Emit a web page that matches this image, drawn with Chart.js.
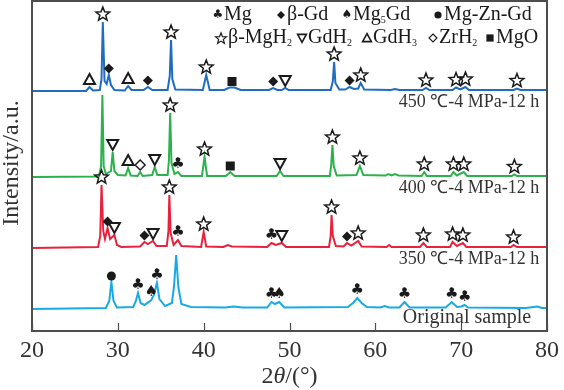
<!DOCTYPE html>
<html>
<head>
<meta charset="utf-8">
<script src="https://cdn.jsdelivr.net/npm/chart.js@4/dist/chart.umd.min.js"></script>
<style>
html, body { margin: 0; padding: 0; background: #fff; }
</style>
</head>
<body>
<canvas id="xrd" width="564" height="390"></canvas>
<script>
// x tick values (2theta) and series names
const xTicks = [20, 30, 40, 50, 60, 70, 80];
const seriesNames = ['450 \u2103-4 MPa-12 h', '400 \u2103-4 MPa-12 h', '350 \u2103-4 MPa-12 h', 'Original sample'];

// [2theta, intensity] (offset stacked, arbitrary units)
const pattern450 = [
  [20,240],[26.3,240],[26.7,244],[27.1,240.5],[27.9,241],[28.1,252],[28.25,309],[28.45,250],[28.7,247],[28.95,256],[29.2,246],[29.6,241],
  [30.8,240.5],[31.2,245],[31.6,241],[33.0,241],[33.5,244],[34.0,241],[35.8,241],[36.05,255],[36.2,291],[36.35,252],[36.7,241.5],
  [39.9,241],[40.3,256],[40.7,241],[42.4,241],[43.0,243.5],[43.6,243.5],[44.3,241],[47.6,241],[48.1,243],[48.6,241],[49.1,241],[49.5,243],[49.9,241],
  [54.8,241],[55.05,250],[55.2,269],[55.35,248],[55.8,241.5],[56.5,241.5],[57.0,244],[57.5,242],[58.0,242.5],[58.3,248],[58.7,241.5],
  [61.8,241],[62.3,242],[62.8,241],[65.5,241],[65.9,243],[66.3,241],[69.0,241],[69.4,243.5],[69.9,241.5],[70.5,244],[70.9,241],
  [76.1,241],[76.5,242.5],[76.9,241],[80,241]
];
const pattern400 = [
  [20,154],[27.8,154.5],[28.05,165],[28.2,236],[28.35,165],[28.6,157],[29.2,160],[29.4,179],[29.6,160],[30.0,156],[30.9,155.5],[31.2,163],[31.5,155.5],
  [32.3,155],[32.6,159],[32.9,155],[34.0,156],[34.3,164],[34.6,156],[35.8,156],[35.95,170],[36.1,218],[36.25,168],[36.6,157],[37.0,159],[37.4,155],
  [39.8,155],[40.1,174],[40.4,155],[42.6,155],[43.1,159],[43.6,155],[48.5,155],[48.9,160],[49.3,155],
  [54.7,155],[54.85,165],[55.0,186],[55.15,165],[55.5,155.5],[57.8,156],[58.2,165],[58.6,156],[61.2,155.5],[61.5,157],[61.9,155.5],[62.3,157],[62.7,155.5],
  [65.4,155],[65.7,159],[66.0,155],[68.8,155],[69.1,159],[69.5,155.5],[70.3,159],[70.7,155],[75.9,155],[76.2,156.5],[76.5,155],[80,155]
];
const pattern350 = [
  [20,83],[27.7,84],[27.95,95],[28.1,146],[28.3,100],[28.5,92],[28.8,103],[29.1,92],[29.6,96],[29.9,86],[30.4,84],[32.6,84.5],[33.1,89],[33.5,87],[34.1,90],[34.5,85],
  [35.7,85],[35.9,100],[36.0,136],[36.15,98],[36.5,86],[37.0,91],[37.4,85],[39.7,84],[40.0,99],[40.3,84.5],[42.3,84],[42.8,86],[43.3,84.5],
  [47.4,84],[47.9,88],[48.4,86],[49.1,88],[49.6,84],[54.6,84],[54.8,95],[54.9,116],[55.05,95],[55.4,85],[56.3,84.5],[56.7,88],[57.2,85.5],[58.0,90],[58.4,84.5],
  [61.3,84],[61.6,86],[61.9,84],[65.2,84],[65.6,88],[66.0,84],[68.7,84],[69.0,89],[69.5,85],[70.2,88],[70.6,84],[75.8,84],[76.1,86],[76.5,84],[80,84]
];
const patternOrig = [
  [20,22],[28.6,23],[29.0,30],[29.25,49],[29.5,30],[29.9,23.5],[31.8,24],[32.1,30],[32.35,38],[32.65,28],[33.1,26],[33.9,31],[34.2,36],[34.55,48],[34.85,32],[35.5,25],
  [36.3,28],[36.55,45],[36.8,76],[37.05,44],[37.4,27],[38.5,24],[42.5,23.5],[43.5,24.5],[44.5,23.5],[47.4,23.5],[47.9,29],[48.3,27],[48.8,29],[49.4,23.5],
  [56.8,24],[57.4,28],[57.9,33],[58.4,28],[59.0,24],[60.6,23.5],[61.1,25],[61.6,23.5],[62.8,23.5],[63.4,29],[64.0,23.5],
  [68.2,23.5],[68.9,29],[69.5,24],[70.0,24.5],[70.4,26],[70.8,23.5],[77.5,23],[78.9,24.5],[79.4,23],[80,23]
];

// phase marks: [2theta, phase key]
const marks450 = [[26.7,'GdH3'],[28.25,'MgH2'],[28.95,'bGd'],[31.2,'GdH3'],[33.5,'bGd'],[36.2,'MgH2'],[40.3,'MgH2'],[43.3,'MgO'],[48.1,'bGd'],[49.5,'GdH2'],[55.2,'MgH2'],[57.0,'bGd'],[58.3,'MgH2'],[65.9,'MgH2'],[69.4,'MgH2'],[70.5,'MgH2'],[76.5,'MgH2']];
const marks400 = [[29.4,'GdH2'],[31.2,'GdH3'],[32.6,'ZrH2'],[34.3,'GdH2'],[36.1,'MgH2'],[37.0,'Mg'],[40.1,'MgH2'],[43.1,'MgO'],[48.9,'GdH2'],[55.0,'MgH2'],[58.2,'MgH2'],[65.7,'MgH2'],[69.1,'MgH2'],[70.3,'MgH2'],[76.2,'MgH2']];
const marks350 = [[28.1,'MgH2'],[28.8,'bGd'],[29.6,'GdH2'],[33.1,'bGd'],[34.1,'GdH2'],[36.0,'MgH2'],[37.0,'Mg'],[40.0,'MgH2'],[47.9,'Mg'],[49.1,'GdH2'],[54.9,'MgH2'],[56.7,'bGd'],[58.0,'MgH2'],[65.6,'MgH2'],[69.0,'MgH2'],[70.2,'MgH2'],[76.1,'MgH2']];
const marksOrig = [[29.25,'MgZnGd'],[32.35,'Mg'],[33.9,'Mg5Gd'],[34.55,'Mg'],[47.9,'Mg'],[48.8,'Mg5Gd'],[57.9,'Mg'],[63.4,'Mg'],[68.9,'Mg'],[70.4,'Mg']];

// legend entries: phase key, label (underscore = subscript)
const legendRow1 = [['Mg','Mg'],['bGd','\u03B2-Gd'],['Mg5Gd','Mg_5Gd'],['MgZnGd','Mg-Zn-Gd']];
const legendRow2 = [['MgH2','\u03B2-MgH_2'],['GdH2','GdH_2'],['GdH3','GdH_3'],['ZrH2','ZrH_2'],['MgO','MgO']];

const serif = '"Liberation Serif", "Times New Roman", serif';
const symFont = '"DejaVu Sans", sans-serif';
const ink = '#1a1a1a';

// half height of each symbol, used to sit it just above its peak
const symHalf = { MgH2: 7, bGd: 5, GdH2: 6, GdH3: 6, ZrH2: 5.5, MgO: 4.5, MgZnGd: 4.5, Mg: 6.5, Mg5Gd: 6.5 };

function drawSymbol(ctx, key, cx, cy, k) {
  k = k || 1;
  ctx.save();
  ctx.translate(cx, cy);
  ctx.scale(k, k);
  ctx.fillStyle = ink;
  ctx.strokeStyle = ink;
  ctx.lineJoin = 'miter';
  ctx.beginPath();
  if (key === 'MgH2') {
    for (let i = 0; i < 10; i++) {
      const r = i % 2 === 0 ? 7.2 : 3.1;
      const ang = -Math.PI / 2 + i * Math.PI / 5;
      const px = r * Math.cos(ang), py = r * Math.sin(ang) + 0.8;
      i === 0 ? ctx.moveTo(px, py) : ctx.lineTo(px, py);
    }
    ctx.closePath();
    ctx.lineWidth = 1.5;
    ctx.stroke();
  } else if (key === 'bGd') {
    ctx.moveTo(0, -5); ctx.lineTo(5, 0); ctx.lineTo(0, 5); ctx.lineTo(-5, 0); ctx.closePath();
    ctx.fill();
  } else if (key === 'ZrH2') {
    ctx.moveTo(0, -5); ctx.lineTo(5, 0); ctx.lineTo(0, 5); ctx.lineTo(-5, 0); ctx.closePath();
    ctx.lineWidth = 1.4;
    ctx.stroke();
  } else if (key === 'GdH3') {
    ctx.moveTo(0, -5.5); ctx.lineTo(5.5, 4.5); ctx.lineTo(-5.5, 4.5); ctx.closePath();
    ctx.lineWidth = 2;
    ctx.stroke();
  } else if (key === 'GdH2') {
    ctx.moveTo(-5.5, -4.5); ctx.lineTo(5.5, -4.5); ctx.lineTo(0, 5.5); ctx.closePath();
    ctx.lineWidth = 2;
    ctx.stroke();
  } else if (key === 'MgO') {
    ctx.fillRect(-4.5, -4.5, 9, 9);
  } else if (key === 'MgZnGd') {
    ctx.arc(0, 0, 4.5, 0, Math.PI * 2);
    ctx.fill();
  } else {
    ctx.font = '15px ' + symFont;
    ctx.textAlign = 'center';
    ctx.textBaseline = 'middle';
    ctx.fillText(key === 'Mg' ? '\u2663' : '\u2660', 0, 0);
  }
  ctx.restore();
}

function peakTop(data, t) {
  let best = -Infinity;
  data.forEach(p => { if (Math.abs(p.x - t) <= 0.16 && p.y > best) best = p.y; });
  if (best === -Infinity) {
    let d = 1e9;
    data.forEach(p => { if (Math.abs(p.x - t) < d) { d = Math.abs(p.x - t); best = p.y; } });
  }
  return best;
}

function drawRich(ctx, str, x, y, size) {
  // text with "_d" subscripts, left aligned
  let cx = x;
  for (let i = 0; i < str.length; i++) {
    const ch = str[i];
    if (ch === '_' && i + 1 < str.length) {
      ctx.font = Math.round(size * 0.5) + 'px ' + serif;
      ctx.fillText(str[i + 1], cx, y + size * 0.25);
      cx += ctx.measureText(str[i + 1]).width;
      i++;
    } else {
      ctx.font = size + 'px ' + serif;
      ctx.fillText(ch, cx, y);
      cx += ctx.measureText(ch).width;
    }
  }
  return cx;
}

const overlay = {
  id: 'overlay',
  afterDatasetsDraw(chart) {
    const { ctx, chartArea: a, scales: { x, y } } = chart;
    ctx.save();

    // frame
    ctx.strokeStyle = '#4d4d4d';
    ctx.lineWidth = 2;
    ctx.strokeRect(a.left, a.top, a.right - a.left, a.bottom - a.top);

    // inward ticks on the bottom axis
    ctx.lineWidth = 1.2;
    xTicks.forEach(v => {
      const px = Math.round(x.getPixelForValue(v)) + 0.5;
      ctx.beginPath();
      ctx.moveTo(px, a.bottom);
      ctx.lineTo(px, a.bottom - 8);
      ctx.stroke();
    });

    // phase marks above peaks
    chart.data.datasets.forEach(ds => {
      ds.marks.forEach(([t, key]) => {
        const top = y.getPixelForValue(peakTop(ds.data, t));
        drawSymbol(ctx, key, x.getPixelForValue(t), top - symHalf[key] - 1.5);
      });
    });

    // series captions
    ctx.fillStyle = '#333';
    ctx.textAlign = 'center';
    ctx.textBaseline = 'middle';
    chart.data.datasets.forEach((ds, i) => {
      const py = y.getPixelForValue(ds.data[0].y) + (i === 3 ? 9 : 11);
      ctx.font = (i === 3 ? 20 : 18) + 'px ' + serif;
      ctx.fillText(ds.label, i === 3 ? 467 : 469, py);
    });

    // legend
    const row1X = [218, 281, 347, 438];
    const row2X = [221, 302, 367, 433, 490];
    [[legendRow1, row1X, 15], [legendRow2, row2X, 38]].forEach(([row, xs, ry]) => {
      row.forEach(([key, name], k) => {
        drawSymbol(ctx, key, xs[k], ry, 0.8);
        ctx.fillStyle = ink;
        ctx.textAlign = 'left';
        ctx.textBaseline = 'middle';
        drawRich(ctx, name, xs[k] + (key === 'MgH2' ? 7 : 6), ry, 20);
      });
    });

    // axis titles
    ctx.fillStyle = '#333';
    ctx.textAlign = 'left';
    ctx.textBaseline = 'middle';
    const parts = [['2', ''], ['\u03B8', 'italic '], ['/(\u00B0)', '']];
    let w = 0;
    parts.forEach(([s, st]) => { ctx.font = st + '24px ' + serif; w += ctx.measureText(s).width; });
    let tx = (a.left + a.right) / 2 - w / 2;
    parts.forEach(([s, st]) => { ctx.font = st + '24px ' + serif; ctx.fillText(s, tx, 377); tx += ctx.measureText(s).width; });

    ctx.translate(12, 163);
    ctx.rotate(-Math.PI / 2);
    ctx.textAlign = 'center';
    ctx.font = '24px ' + serif;
    ctx.fillText('Intensity/a.u.', 0, 0);
    ctx.restore();
  }
};

const toPts = arr => arr.map(p => ({ x: p[0], y: p[1] }));

new Chart(document.getElementById('xrd'), {
  type: 'line',
  data: {
    datasets: [
      { label: seriesNames[0], data: toPts(pattern450), marks: marks450, borderColor: '#1f6cc0' },
      { label: seriesNames[1], data: toPts(pattern400), marks: marks400, borderColor: '#2bb24c' },
      { label: seriesNames[2], data: toPts(pattern350), marks: marks350, borderColor: '#e8223c' },
      { label: seriesNames[3], data: toPts(patternOrig), marks: marksOrig, borderColor: '#19aae6' }
    ]
  },
  options: {
    responsive: false,
    animation: false,
    parsing: false,
    layout: { padding: { left: 32, right: 14, top: 1, bottom: 0 } },
    plugins: { legend: { display: false }, tooltip: { enabled: false } },
    elements: { point: { radius: 0 }, line: { tension: 0, borderWidth: 2, fill: false } },
    scales: {
      x: {
        type: 'linear',
        min: 20,
        max: 80,
        afterBuildTicks(s) { s.ticks = xTicks.map(v => ({ value: v })); },
        ticks: { padding: 5, color: '#333', font: { family: serif, size: 24 }, maxRotation: 0 },
        grid: { display: false, drawTicks: false },
        border: { display: false },
        afterFit(s) { s.height = 59; }
      },
      y: { display: false, min: 0, max: 330 }
    }
  },
  plugins: [overlay]
});
</script>
</body>
</html>
